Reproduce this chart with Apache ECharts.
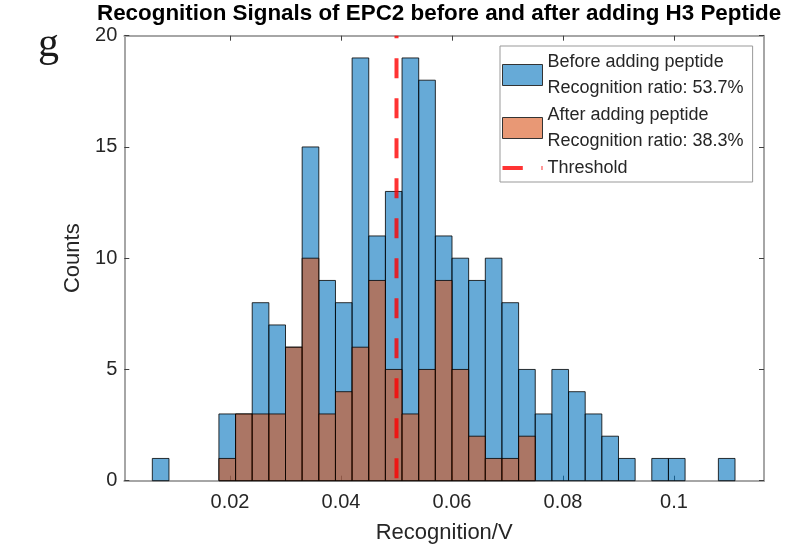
<!DOCTYPE html>
<html><head><meta charset="utf-8">
<script src="https://cdn.jsdelivr.net/npm/echarts@6/dist/echarts.min.js"></script>
<style>html,body{margin:0;padding:0;background:#fff}#c{width:795px;height:552px}</style>
</head><body><div id="c"></div>
<script>
// ---- data ----
const titleText = 'Recognition Signals of EPC2 before and after adding H3 Peptide';
const xAxisName = 'Recognition/V';
const yAxisName = 'Counts';
const panelLabel = 'g';
const binStart = 0.006;
const binWidth = 0.003;
const beforeCounts = [1,0,0,0,3,3,8,7,6,15,9,8,19,11,13,19,18,11,10,9,10,8,5,3,5,4,3,2,1,0,1,1,0,0,1];
const afterCounts  = [0,0,0,0,1,3,3,3,6,10,3,4,6,9,5,3,5,9,5,2,1,1,2,0,0,0,0,0,0,0,0,0,0,0,0];
const threshold = 0.05;
const xTicks = [0.02, 0.04, 0.06, 0.08, 0.1];
const yTicks = [0, 5, 10, 15, 20];
const beforeName = 'Before adding peptide\nRecognition ratio: 53.7%';
const afterName = 'After adding peptide\nRecognition ratio: 38.3%';
const thresholdName = 'Threshold';

// ---- build ----
const FONT = "'Liberation Sans', Arial, sans-serif";
function toBins(counts) {
  const out = [];
  counts.forEach((c, i) => {
    if (c > 0) out.push([binStart + i * binWidth, binStart + (i + 1) * binWidth, c]);
  });
  return out;
}
function makeRender(fill) {
  return function (params, api) {
    const p0 = api.coord([api.value(0), api.value(2)]);
    const p1 = api.coord([api.value(1), 0]);
    return {
      type: 'rect',
      shape: { x: p0[0], y: p0[1], width: p1[0] - p0[0], height: p1[1] - p0[1] },
      style: { fill: fill, stroke: 'rgba(0,0,0,0.8)', lineWidth: 1 }
    };
  };
}
const BLUE = 'rgba(0,114,189,0.6)';
const ORANGE = 'rgba(217,83,25,0.6)';
const RED = 'rgba(255,0,0,0.8)';
const xMin = 0.00095, xMax = 0.11622;
const axisLineStyle = { color: '#a6a6a6', width: 2 };
const tickStyle = { color: '#404040', width: 1 };

const chart = echarts.init(document.getElementById('c'), null, { renderer: 'canvas' });
chart.setOption({
  backgroundColor: '#fff',
  animation: false,
  title: {
    text: titleText, left: 97, top: 3, padding: 0,
    textStyle: { fontFamily: FONT, fontSize: 22.4, fontWeight: 'bold', color: '#000' }
  },
  graphic: [{
    type: 'text', left: 38, top: 24,
    style: { text: panelLabel, fontFamily: "'Liberation Serif', 'DejaVu Serif', serif", fontSize: 42, fill: '#1a1a1a' }
  }],
  grid: { left: 124.3, right: 31, top: 35.7, bottom: 71.3, containLabel: false },
  legend: {
    left: 500, top: 46, orient: 'vertical', padding: [3, 9, 1, 2], itemGap: 1,
    itemWidth: 40, itemHeight: 21, symbolKeepAspect: true,
    backgroundColor: '#fff', borderColor: '#999', borderWidth: 1,
    selectedMode: false,
    textStyle: { fontFamily: FONT, fontSize: 18, lineHeight: 26, color: '#262626' },
    data: [
      { name: beforeName, icon: 'rect', itemStyle: { color: BLUE, borderColor: '#333', borderWidth: 1 } },
      { name: afterName, icon: 'rect', itemStyle: { color: ORANGE, borderColor: '#333', borderWidth: 1 } },
      { name: thresholdName, icon: 'path://M0,0H20V4H0Z M38.4,0H39.4V4H38.4Z', itemStyle: { color: RED, borderWidth: 0 } }
    ]
  },
  xAxis: [{
    type: 'value', min: xMin, max: xMax, position: 'bottom',
    name: xAxisName, nameLocation: 'middle', nameGap: 41,
    nameTextStyle: { fontFamily: FONT, fontSize: 22, color: '#262626' },
    axisLine: { show: true, onZero: false, lineStyle: axisLineStyle },
    axisTick: { show: true, inside: true, length: 5, lineStyle: tickStyle, customValues: xTicks },
    axisLabel: { show: true, margin: 12, fontFamily: FONT, fontSize: 20, color: '#262626', customValues: xTicks, formatter: v => String(+v.toFixed(4)) },
    splitLine: { show: false }
  }, {
    type: 'value', min: xMin, max: xMax, position: 'top',
    axisLine: { show: true, onZero: false, lineStyle: axisLineStyle },
    axisTick: { show: true, inside: true, length: 5, lineStyle: tickStyle, customValues: xTicks },
    axisLabel: { show: false },
    splitLine: { show: false }
  }],
  yAxis: [{
    type: 'value', min: 0, max: 20, interval: 5, position: 'left',
    name: yAxisName, nameLocation: 'middle', nameGap: 32, nameRotate: 90,
    nameTextStyle: { fontFamily: FONT, fontSize: 22, color: '#262626' },
    axisLine: { show: true, onZero: false, lineStyle: axisLineStyle },
    axisTick: { show: true, inside: true, length: 5, lineStyle: tickStyle, customValues: yTicks },
    axisLabel: { show: true, margin: 7, fontFamily: FONT, fontSize: 20, color: '#262626', customValues: yTicks },
    splitLine: { show: false }
  }, {
    type: 'value', min: 0, max: 20, interval: 5, position: 'right',
    axisLine: { show: true, onZero: false, lineStyle: axisLineStyle },
    axisTick: { show: true, inside: true, length: 5, lineStyle: tickStyle, customValues: yTicks },
    axisLabel: { show: false },
    splitLine: { show: false }
  }],
  series: [{
    name: beforeName, type: 'custom', xAxisIndex: 0, yAxisIndex: 0,
    itemStyle: { color: BLUE },
    renderItem: makeRender(BLUE),
    encode: { x: [0, 1], y: 2 },
    data: toBins(beforeCounts), z: 2
  }, {
    name: afterName, type: 'custom', xAxisIndex: 0, yAxisIndex: 0,
    itemStyle: { color: ORANGE },
    renderItem: makeRender(ORANGE),
    encode: { x: [0, 1], y: 2 },
    data: toBins(afterCounts), z: 3
  }, {
    name: thresholdName, type: 'line', xAxisIndex: 0, yAxisIndex: 0,
    symbol: 'none', z: 4,
    lineStyle: { color: RED, width: 4, type: [20, 20], dashOffset: 37.6 },
    itemStyle: { color: RED },
    data: [[threshold, 0], [threshold, 20]]
  }]
});
</script>
</body></html>
